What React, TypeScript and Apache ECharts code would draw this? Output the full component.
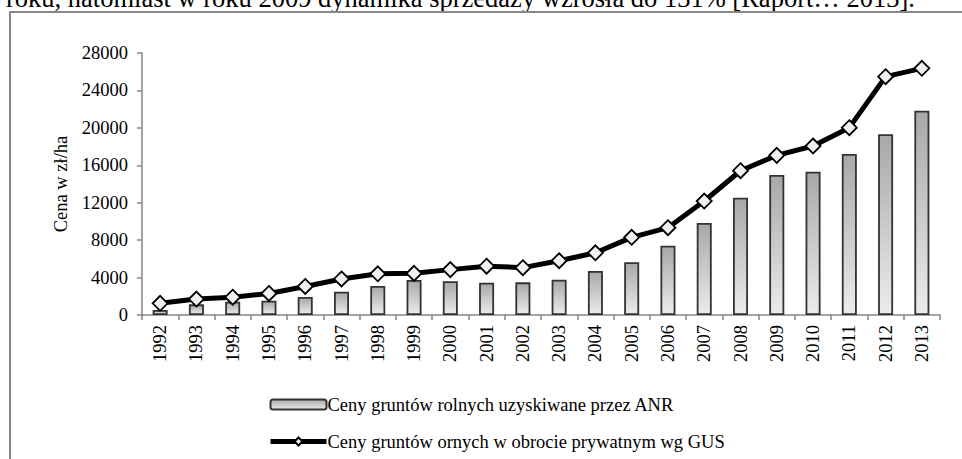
import React, { useEffect, useRef } from "react";
import * as echarts from "echarts";

const years = ["1992","1993","1994","1995","1996","1997","1998","1999","2000","2001","2002","2003","2004","2005","2006","2007","2008","2009","2010","2011","2012","2013"];
const anrPrices = [530,1140,1420,1530,1920,2490,3100,3740,3600,3450,3490,3770,4700,5630,7410,9830,12540,14960,15320,17210,19310,21830];
const gusPrices = [1250,1700,1900,2300,3050,3850,4400,4450,4850,5220,5060,5800,6650,8300,9330,12180,15420,17060,18060,20020,25470,26360];
const yTicks = { min: 0, max: 28000, interval: 4000 };
const seriesNames = ["Ceny gruntów rolnych uzyskiwane przez ANR", "Ceny gruntów ornych w obrocie prywatnym wg GUS"];
const headerText = "roku, natomiast w roku 2009 dynamika sprzedaży wzrosła do 131% [Raport… 2013].";

const FONT = "Liberation Serif";
const FS = 18.5;

export default function App() {
  const ref = useRef<HTMLDivElement>(null);
  useEffect(() => {
    if (!ref.current) return;
    const chart = echarts.init(ref.current, undefined, { renderer: "svg" });
    chart.setOption({
      animation: false,
      backgroundColor: "#ffffff",
      textStyle: { fontFamily: FONT, color: "#000" },
      graphic: [
        {
          type: "text",
          left: 6,
          top: -16,
          style: { text: headerText, fontFamily: FONT, fontSize: 26.5, fill: "#000" },
          z: 10,
        },
        {
          type: "polyline",
          shape: { points: [[10, 470], [10, 12], [970, 12]] },
          style: { stroke: "#888888", lineWidth: 2, fill: "none" },
          z: 10,
        },
      ],
      grid: { left: 142, right: 22, top: 53, bottom: 144, containLabel: false },
      legend: {
        orient: "vertical",
        left: 263,
        top: 390,
        itemWidth: 56,
        itemHeight: 10,
        itemGap: 18,
        lineStyle: { width: 5, color: "#000" },
        textStyle: { fontFamily: FONT, fontSize: FS, color: "#000", padding: [0, 0, 0, -4] },
        data: seriesNames,
      },
      xAxis: {
        type: "category",
        data: years,
        boundaryGap: true,
        axisLine: { lineStyle: { color: "#868686", width: 1.5 } },
        axisTick: { show: true, length: 5, alignWithLabel: false, lineStyle: { color: "#868686", width: 1.5 } },
        axisLabel: { rotate: 90, margin: 10, fontFamily: FONT, fontSize: FS, color: "#000" },
        splitLine: { show: false },
      },
      yAxis: {
        type: "value",
        min: yTicks.min,
        max: yTicks.max,
        interval: yTicks.interval,
        name: "Cena w zł/ha",
        nameLocation: "middle",
        nameGap: 65,
        nameRotate: 90,
        nameTextStyle: { fontFamily: FONT, fontSize: FS, color: "#000" },
        axisLine: { show: true, lineStyle: { color: "#868686", width: 1.5 } },
        axisTick: { show: true, length: 5, lineStyle: { color: "#868686", width: 1.5 } },
        axisLabel: { margin: 14, fontFamily: FONT, fontSize: FS, color: "#000", formatter: (v: number) => String(v) },
        splitLine: { show: false },
      },
      series: [
        {
          name: seriesNames[0],
          type: "bar",
          data: anrPrices,
          barWidth: 15,
          itemStyle: {
            color: new echarts.graphic.LinearGradient(0, 0, 0, 1, [
              { offset: 0, color: "#a8a8a8" },
              { offset: 1, color: "#ececec" },
            ]),
            borderColor: "#333333",
            borderWidth: 1.8,
          },
        },
        {
          name: seriesNames[1],
          type: "line",
          data: gusPrices,
          symbol: "diamond",
          symbolSize: 15,
          lineStyle: { color: "#000", width: 5 },
          itemStyle: { color: "#f0f0f0", borderColor: "#000", borderWidth: 1.8 },
          z: 3,
        },
      ],
    });
    return () => chart.dispose();
  }, []);
  return <div ref={ref} style={{ position: "fixed", left: 0, top: 0, width: 962, height: 459 }} />;
}
